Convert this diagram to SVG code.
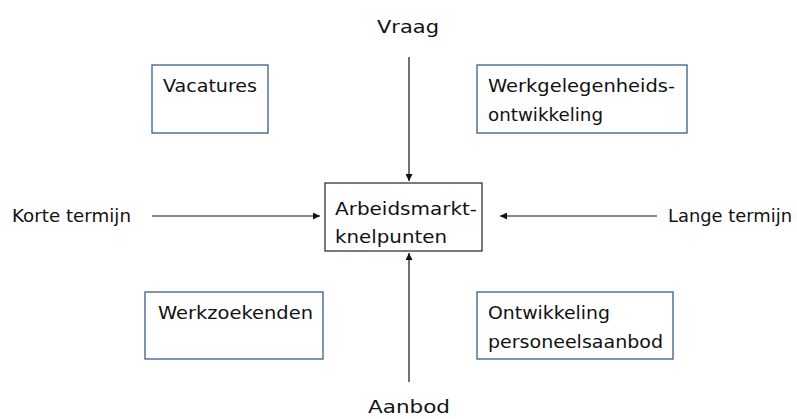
<svg xmlns="http://www.w3.org/2000/svg" width="797" height="419" viewBox="0 0 797 419">
<style>
text{font-family:"DejaVu Sans","Liberation Sans",sans-serif;font-size:18.5px;fill:#111}
.box{fill:#fff;stroke:#385d8a;stroke-width:1.3}
.cbox{fill:#fff;stroke:#222;stroke-width:1.2}
.conn{stroke:#111;stroke-width:1.2;fill:none;marker-end:url(#ah)}
</style>
<defs>
<marker id="ah" viewBox="0 0 10 10" refX="10" refY="5" markerWidth="8" markerHeight="7" markerUnits="userSpaceOnUse" orient="auto">
<path d="M0,0L10,5L0,10z" fill="#111"/>
</marker>
</defs>
<rect width="797" height="419" fill="#fff"/>
<g id="connectors">
<line class="conn" x1="409" y1="57" x2="409" y2="181"/>
<line class="conn" x1="409" y1="382" x2="409" y2="253"/>
<line class="conn" x1="152" y1="216" x2="320" y2="216"/>
<line class="conn" x1="657" y1="216" x2="500" y2="216"/>
</g>
<g id="vacatures"><rect class="box" x="152" y="65" width="116" height="68"/><text x="163" y="92" textLength="94" lengthAdjust="spacingAndGlyphs">Vacatures</text></g>
<g id="werkgelegenheid"><rect class="box" x="477" y="65" width="210" height="68"/><text x="488" y="92" textLength="187" lengthAdjust="spacingAndGlyphs">Werkgelegenheids-</text><text x="488" y="121" textLength="115" lengthAdjust="spacingAndGlyphs">ontwikkeling</text></g>
<g id="knelpunten"><rect class="cbox" x="325" y="183" width="157" height="68"/><text x="335" y="215" textLength="142" lengthAdjust="spacingAndGlyphs">Arbeidsmarkt-</text><text x="335" y="243" textLength="112" lengthAdjust="spacingAndGlyphs">knelpunten</text></g>
<g id="werkzoekenden"><rect class="box" x="145" y="292" width="178" height="67"/><text x="158" y="319" textLength="155" lengthAdjust="spacingAndGlyphs">Werkzoekenden</text></g>
<g id="ontwikkeling"><rect class="box" x="477" y="292" width="196" height="67"/><text x="488" y="319" textLength="122" lengthAdjust="spacingAndGlyphs">Ontwikkeling</text><text x="488" y="348" textLength="175" lengthAdjust="spacingAndGlyphs">personeelsaanbod</text></g>
<g id="vraag"><text x="377" y="33" textLength="62" lengthAdjust="spacingAndGlyphs">Vraag</text></g>
<g id="aanbod"><text x="368" y="413" textLength="82" lengthAdjust="spacingAndGlyphs">Aanbod</text></g>
<g id="korte"><text x="12" y="222" textLength="119" lengthAdjust="spacingAndGlyphs">Korte termijn</text></g>
<g id="lange"><text x="668" y="222" textLength="124" lengthAdjust="spacingAndGlyphs">Lange termijn</text></g>
</svg>
